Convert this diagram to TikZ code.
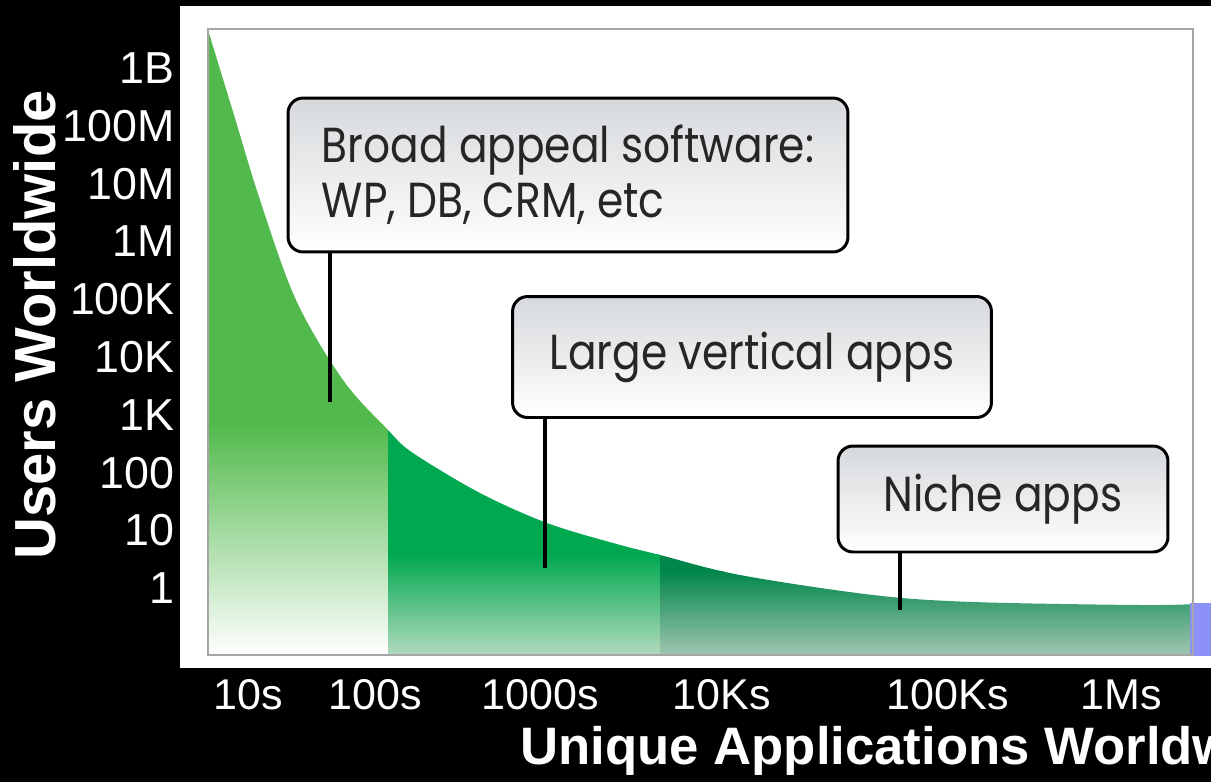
\documentclass[tikz,border=0pt]{standalone}
\usepackage{fontspec}
\setmainfont{Liberation Sans}
\newfontfamily\calloutfont[FakeStretch=0.86]{Poppins}
\usetikzlibrary{calc}

\definecolor{broadgreen}{RGB}{82,186,76}
\definecolor{vertgreen}{RGB}{0,168,80}
\definecolor{nichegreen}{RGB}{0,134,74}
\definecolor{vertpale}{RGB}{178,218,190}
\definecolor{nichepale}{RGB}{162,198,178}
\definecolor{boxgray}{RGB}{214,217,220}
\definecolor{patchblue}{RGB}{140,145,250}

\begin{document}
\begin{tikzpicture}[x=0.02cm,y=-0.02cm,
  callout/.style={draw=black,line width=1.7pt,rounded corners=0.3cm,
    top color=boxgray,bottom color=white,inner sep=0pt,text=black!85,
    font=\calloutfont\fontsize{28}{31.3}\selectfont},
  leader/.style={black,line width=1.8pt},
  ticklabel/.style={white,font=\fontsize{25.5}{30}\selectfont},
  axistitle/.style={white,font=\bfseries\fontsize{30}{36}\selectfont}]

\useasboundingbox (0,0) rectangle (1211,782);
\clip (0,0) rectangle (1211,782);
\fill[black] (0,0) rectangle (1211,782);
\fill[white] (180,6) rectangle (1211,668);

% the long tail
\begin{scope}
  \clip (208,655) -- plot[smooth,tension=0.55] coordinates {(208,30) (234,115) (260,200)
    (296,300) (343,380) (388,430) (413,453) (480,493) (547,523) (613,543) (660,555)
    (740,575) (873,595) (973,602) (1140,605) (1195,604)} -- (1195,655) -- cycle;
  \fill[broadgreen] (208,29) rectangle (388,425);
  \shade[top color=broadgreen,bottom color=white] (208,424) rectangle (388,655);
  \fill[vertgreen] (388,29) rectangle (660,555);
  \shade[top color=vertgreen,bottom color=vertpale] (388,554) rectangle (660,655);
  \fill[nichegreen] (660,29) rectangle (1195,572);
  \shade[top color=nichegreen,bottom color=nichepale] (660,571) rectangle (1195,655);
\end{scope}
\fill[patchblue] (1190,603) rectangle (1211,656);
\draw[gray!70,line width=1.1pt] (208,29) rectangle (1193,655);

% callouts
\node[callout,minimum width=11.2cm,minimum height=3.08cm,align=left] (broad) at (568,175)
  {Broad appeal software:\\WP, DB, CRM, etc};
\node[callout,minimum width=9.58cm,minimum height=2.42cm] (vertical) at (752,357)
  {Large vertical apps};
\node[callout,minimum width=6.6cm,minimum height=2.12cm] (niche) at (1003,499)
  {Niche apps};

\coordinate (broadfoot) at (330,402);
\coordinate (verticalfoot) at (545,568);
\coordinate (nichefoot) at (900,610);
\draw[leader] (broad.south -| broadfoot) -- (broadfoot);
\draw[leader] (vertical.south -| verticalfoot) -- (verticalfoot);
\draw[leader] (niche.south -| nichefoot) -- (nichefoot);

% axes
\foreach \lab [count=\i from 0] in {1B,100M,10M,1M,100K,10K,1K,100,10,1}
  \node[ticklabel,anchor=east,inner sep=0pt] (ytick\i) at (175,68+57.8*\i) {\lab};
\node[axistitle,rotate=90,font=\bfseries\fontsize{33}{38}\selectfont] (ytitle) at (35,325) {Users Worldwide};

\foreach \lab/\xpos [count=\i] in {10s/248,100s/375,1000s/540,10Ks/722,100Ks/948,1Ms/1121}
  \node[ticklabel,inner sep=0pt,font=\fontsize{24.5}{29}\selectfont] (xtick\i) at (\xpos,695) {\lab};
\node[axistitle,anchor=base west,inner sep=0pt] (xtitle) at (520,764) {Unique Applications Worldwide};

\end{tikzpicture}
\end{document}
